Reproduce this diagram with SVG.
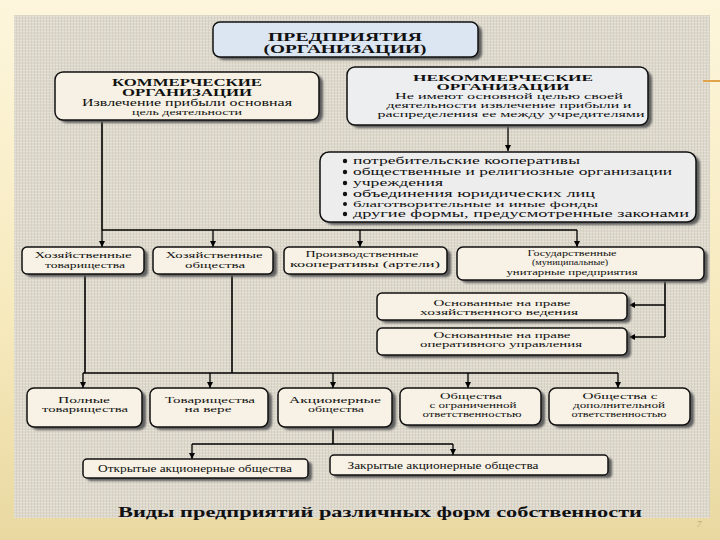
<svg xmlns="http://www.w3.org/2000/svg" width="720" height="540" viewBox="0 0 720 540">
<defs>
<linearGradient id="slide" x1="0" y1="0" x2="0" y2="1">
<stop offset="0" stop-color="#fdf6dc"/>
<stop offset="0.6" stop-color="#f6e9bc"/>
<stop offset="1" stop-color="#e9d8a0"/>
</linearGradient>
<pattern id="linen" width="6" height="6" patternUnits="userSpaceOnUse">
<rect width="6" height="6" fill="#ddd8cc"/>
<path d="M0,1.5H6M0,4.5H6" stroke="#e9e5da" stroke-width="0.8"/>
<path d="M1.5,0V6M4.5,0V6" stroke="#cfc9bb" stroke-width="0.6"/>
</pattern>
<filter id="sh" x="-10%" y="-20%" width="130%" height="150%">
<feGaussianBlur stdDeviation="1.2"/>
</filter>
<marker id="arr" viewBox="0 0 8 8" refX="8" refY="4" markerWidth="6" markerHeight="6" markerUnits="userSpaceOnUse" orient="auto">
<path d="M0,0L8,4L0,8z" fill="#000"/>
</marker>
<style>
.box{stroke:#111;stroke-width:1.5}
.shadow{fill:#5e5e5e;filter:url(#sh)}
.cream{fill:#f7f2e5}
.t{font-family:"Liberation Serif","DejaVu Serif",serif;fill:#111;text-anchor:middle}
.b{font-weight:bold}
.s8{font-size:8px}
.s9{font-size:9px}
.s10{font-size:10px}
.ln{stroke:#000;stroke-width:1.6;fill:none}
.ar{stroke:#000;stroke-width:1.3;fill:none;marker-end:url(#arr)}
</style>
</defs>
<rect width="720" height="540" fill="url(#slide)"/>
<rect x="14" y="15" width="696" height="503" fill="url(#linen)"/>
<line x1="703" y1="81" x2="720" y2="81" stroke="#e0a24a" stroke-width="2"/>
<text x="697" y="527" font-family="Liberation Serif, serif" font-size="9" font-style="italic" fill="#b8a878">7</text>

<g id="connectors">
<path class="ln" d="M102,120V230M102,230H577"/>
<path class="ar" d="M102,230V247"/>
<path class="ar" d="M213,230V247"/>
<path class="ar" d="M360,230V247"/>
<path class="ar" d="M577,230V247"/>
<path class="ar" d="M508,125V151"/>
<path class="ln" d="M665,280V337" stroke-width="2.2"/>
<path class="ar" d="M665,305H629"/>
<path class="ar" d="M665,337H629"/>
<path class="ln" d="M85,275V373M232,275V373M83,373H618"/>
<path class="ar" d="M83,373V388"/>
<path class="ar" d="M210,373V388"/>
<path class="ar" d="M333,373V388"/>
<path class="ar" d="M468,373V388"/>
<path class="ar" d="M618,373V388"/>
<path class="ln" d="M333,428V444M192,444H453"/>
<path class="ar" d="M192,444V459"/>
<path class="ar" d="M453,444V455"/>
</g>

<g id="n-top">
<rect class="shadow" x="217" y="25" width="265" height="35" rx="7"/>
<rect class="box" x="213" y="22" width="265" height="35" rx="7" fill="#dce6f2"/>
<text class="t b" font-size="11.5" x="345" y="41" textLength="154" lengthAdjust="spacingAndGlyphs">ПРЕДПРИЯТИЯ</text>
<text class="t b" font-size="11.5" x="345" y="53" textLength="163" lengthAdjust="spacingAndGlyphs">(ОРГАНИЗАЦИИ)</text>
</g>

<g id="n-commercial">
<rect class="shadow" x="59" y="75" width="264" height="48" rx="8"/>
<rect class="box" x="55" y="72" width="264" height="48" rx="8" fill="#f6f1e4"/>
<text class="t b" font-size="10.5" x="187" y="86" textLength="150" lengthAdjust="spacingAndGlyphs">КОММЕРЧЕСКИЕ</text>
<text class="t b" font-size="10" x="187" y="96" textLength="130" lengthAdjust="spacingAndGlyphs">ОРГАНИЗАЦИИ</text>
<text class="t" font-size="9.5" x="187" y="106" textLength="210" lengthAdjust="spacingAndGlyphs">Извлечение прибыли основная</text>
<text class="t s8" x="187" y="115" textLength="110" lengthAdjust="spacingAndGlyphs">цель деятельности</text>
</g>

<g id="n-noncommercial">
<rect class="shadow" x="351" y="71" width="301" height="57" rx="8"/>
<rect class="box" x="347" y="67" width="301" height="58" rx="8" fill="#eceef0"/>
<text class="t b s9" x="503" y="81" textLength="180" lengthAdjust="spacingAndGlyphs">НЕКОММЕРЧЕСКИЕ</text>
<text class="t b s9" x="503" y="90" textLength="133" lengthAdjust="spacingAndGlyphs">ОРГАНИЗАЦИИ</text>
<text class="t s9" x="509" y="99" textLength="228" lengthAdjust="spacingAndGlyphs">Не имеют основной целью своей</text>
<text class="t s9" x="509" y="108" textLength="245" lengthAdjust="spacingAndGlyphs">деятельности извлечение прибыли и</text>
<text class="t s9" x="511" y="117" textLength="267" lengthAdjust="spacingAndGlyphs">распределения ее между учредителями</text>
</g>

<g id="n-list">
<rect class="shadow" x="324" y="155" width="376" height="70" rx="9"/>
<rect class="box" x="320" y="152" width="376" height="70" rx="9" fill="#ededed"/>
<g fill="#111">
<circle cx="345" cy="161" r="2.2"/><circle cx="345" cy="172" r="2.2"/><circle cx="345" cy="183" r="2.2"/>
<circle cx="345" cy="194" r="2.2"/><circle cx="345" cy="204" r="2"/><circle cx="345" cy="214" r="2.2"/>
</g>
<g class="t" font-size="10" style="text-anchor:start">
<text x="353" y="164" textLength="227" lengthAdjust="spacingAndGlyphs">потребительские кооперативы</text>
<text x="353" y="175" textLength="319" lengthAdjust="spacingAndGlyphs">общественные и религиозные организации</text>
<text x="353" y="186" textLength="90" lengthAdjust="spacingAndGlyphs">учреждения</text>
<text x="353" y="197" textLength="242" lengthAdjust="spacingAndGlyphs">объединения юридических лиц</text>
<text x="353" y="207" font-size="8.5" textLength="245" lengthAdjust="spacingAndGlyphs">благотворительные и иные фонды</text>
<text x="353" y="217" textLength="336" lengthAdjust="spacingAndGlyphs">другие формы, предусмотренные законами</text>
</g>
</g>

<g id="n-ht">
<rect class="shadow" x="26" y="250" width="122" height="27" rx="5"/>
<rect class="box cream" x="22" y="247" width="122" height="27" rx="5"/>
<text class="t s9" x="83" y="258" textLength="97" lengthAdjust="spacingAndGlyphs">Хозяйственные</text>
<text class="t s9" x="85" y="268" textLength="80" lengthAdjust="spacingAndGlyphs">товарищества</text>
</g>
<g id="n-ho">
<rect class="shadow" x="157" y="250" width="120" height="27" rx="5"/>
<rect class="box cream" x="153" y="247" width="120" height="27" rx="5"/>
<text class="t s9" x="214" y="258" textLength="97" lengthAdjust="spacingAndGlyphs">Хозяйственные</text>
<text class="t s9" x="215" y="268" textLength="60" lengthAdjust="spacingAndGlyphs">общества</text>
</g>
<g id="n-pk">
<rect class="shadow" x="288" y="250" width="163" height="27" rx="5"/>
<rect class="box cream" x="284" y="247" width="163" height="27" rx="5"/>
<text class="t s9" x="362" y="257" textLength="113" lengthAdjust="spacingAndGlyphs">Производственные</text>
<text class="t s9" x="365" y="267" textLength="150" lengthAdjust="spacingAndGlyphs">кооперативы (артели)</text>
</g>
<g id="n-gup">
<rect class="shadow" x="461" y="250" width="247" height="33" rx="6"/>
<rect class="box cream" x="457" y="247" width="247" height="33" rx="6"/>
<text class="t s9" x="572" y="256" textLength="89" lengthAdjust="spacingAndGlyphs">Государственные</text>
<text class="t s8" x="570" y="265" textLength="76" lengthAdjust="spacingAndGlyphs">(муниципальные)</text>
<text class="t s9" x="572" y="275" textLength="131" lengthAdjust="spacingAndGlyphs">унитарные предприятия</text>
</g>

<g id="n-hv">
<rect class="shadow" x="381" y="296" width="250" height="27" rx="5"/>
<rect class="box cream" x="377" y="293" width="250" height="27" rx="5"/>
<text class="t s8" x="502" y="306" textLength="137" lengthAdjust="spacingAndGlyphs">Основанные на праве</text>
<text class="t s8" x="499" y="315" textLength="158" lengthAdjust="spacingAndGlyphs">хозяйственного ведения</text>
</g>
<g id="n-ou">
<rect class="shadow" x="381" y="331" width="250" height="27" rx="5"/>
<rect class="box cream" x="377" y="328" width="250" height="27" rx="5"/>
<text class="t s8" x="502" y="338" textLength="137" lengthAdjust="spacingAndGlyphs">Основанные на праве</text>
<text class="t s8" x="501" y="347" textLength="162" lengthAdjust="spacingAndGlyphs">оперативного управления</text>
</g>

<g id="n-pt">
<rect class="shadow" x="31" y="391" width="115" height="39" rx="7"/>
<rect class="box cream" x="27" y="388" width="115" height="39" rx="7"/>
<text class="t s8" x="84" y="403" textLength="52" lengthAdjust="spacingAndGlyphs">Полные</text>
<text class="t s8" x="85" y="412" textLength="86" lengthAdjust="spacingAndGlyphs">товарищества</text>
</g>
<g id="n-tv">
<rect class="shadow" x="154" y="391" width="118" height="39" rx="7"/>
<rect class="box cream" x="150" y="388" width="118" height="39" rx="7"/>
<text class="t s9" x="210" y="403" textLength="90" lengthAdjust="spacingAndGlyphs">Товарищества</text>
<text class="t s8" x="208" y="412" textLength="47" lengthAdjust="spacingAndGlyphs">на вере</text>
</g>
<g id="n-ao">
<rect class="shadow" x="282" y="391" width="114" height="39" rx="7"/>
<rect class="box cream" x="278" y="388" width="114" height="39" rx="7"/>
<text class="t s9" x="335" y="403" textLength="92" lengthAdjust="spacingAndGlyphs">Акционерные</text>
<text class="t s8" x="336" y="412" textLength="56" lengthAdjust="spacingAndGlyphs">общества</text>
</g>
<g id="n-ooo">
<rect class="shadow" x="404" y="391" width="141" height="37" rx="7"/>
<rect class="box cream" x="400" y="388" width="141" height="37" rx="7"/>
<text class="t s8" x="471" y="399" textLength="62" lengthAdjust="spacingAndGlyphs">Общества</text>
<text class="t s8" x="473" y="408" textLength="87" lengthAdjust="spacingAndGlyphs">с ограниченной</text>
<text class="t s8" x="472" y="417" textLength="99" lengthAdjust="spacingAndGlyphs">ответственностью</text>
</g>
<g id="n-odo">
<rect class="shadow" x="553" y="391" width="141" height="37" rx="7"/>
<rect class="box cream" x="549" y="388" width="141" height="37" rx="7"/>
<text class="t s8" x="620" y="399" textLength="75" lengthAdjust="spacingAndGlyphs">Общества с</text>
<text class="t s8" x="619" y="408" textLength="92" lengthAdjust="spacingAndGlyphs">дополнительной</text>
<text class="t s8" x="619" y="417" textLength="95" lengthAdjust="spacingAndGlyphs">ответственностью</text>
</g>

<g id="n-oao">
<rect class="shadow" x="87" y="462" width="225" height="19" rx="4"/>
<rect class="box cream" x="83" y="459" width="225" height="19" rx="4"/>
<text class="t s10" x="195" y="472" textLength="194" lengthAdjust="spacingAndGlyphs">Открытые акционерные общества</text>
</g>
<g id="n-zao">
<rect class="shadow" x="334" y="458" width="278" height="20" rx="4"/>
<rect class="box cream" x="330" y="455" width="278" height="20" rx="4"/>
<text class="t s10" x="443" y="469" textLength="191" lengthAdjust="spacingAndGlyphs">Закрытые акционерные общества</text>
</g>

<text class="t b" font-size="14" x="380" y="517" textLength="524" lengthAdjust="spacingAndGlyphs">Виды предприятий различных форм собственности</text>
</svg>
